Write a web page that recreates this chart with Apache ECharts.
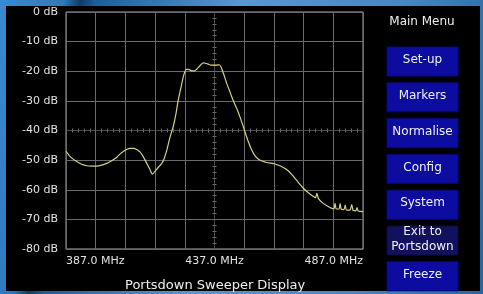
<!DOCTYPE html>
<html>
<head>
<meta charset="utf-8">
<title>Portsdown Sweeper Display</title>
<script src="https://cdn.jsdelivr.net/npm/echarts@6/dist/echarts.min.js"></script>
<style>
    html, body { margin: 0; padding: 0; }
    body {
        width: 483px; height: 294px; overflow: hidden; position: relative;
        background: linear-gradient(100deg, #3a8ad0 0%, #2f78bb 12%, #123a5c 15%, #1f5f98 18%, #5a96cf 45%, #4a86c0 75%, #2b64a0 100%);
    }
    #screen { position: absolute; left: 6px; top: 6px; width: 474px; height: 285px; background: #000; }
    #main { position: absolute; left: 0; top: 0; width: 483px; height: 294px; }
</style>
</head>
<body>
<div id="screen"></div>
<div id="main"></div>
<script>
// sweep trace (MHz / dB)
var freqMHz = [387.0, 388.5, 390.6, 392.3, 394.0, 395.7, 397.3, 399.0, 400.7, 402.4,
    404.0, 405.7, 407.4, 408.6, 409.7, 410.8, 411.9, 413.0, 414.2, 415.2,
    416.1, 417.1, 418.1, 419.2, 420.0, 420.9, 422.0, 423.1, 424.0, 424.8,
    425.7, 426.5, 427.1, 427.6, 428.2, 428.8, 429.5, 430.2, 431.0, 431.6,
    432.4, 433.2, 434.0, 434.9, 435.8, 436.6, 437.6, 438.6, 439.3, 440.0,
    440.6, 441.1, 442.0, 442.8, 443.7, 444.7, 445.6, 446.7, 447.6, 448.4,
    449.5, 450.6, 451.8, 453.2, 454.6, 456.0, 457.4, 458.8, 460.2, 461.8,
    463.5, 465.2, 466.9, 468.6, 470.3, 471.0, 471.5, 472.0, 473.6, 475.0,
    476.5, 477.2, 477.6, 478.0, 478.9, 479.3, 479.7, 480.6, 481.0, 481.4,
    482.6, 483.2, 483.7, 484.6, 485.0, 485.4, 487.0];
var levelDb = [-47.0, -48.9, -50.5, -51.4, -51.9, -52.0, -52.0, -51.7, -51.1, -50.2,
    -49.1, -47.5, -46.4, -46.0, -46.0, -46.4, -47.2, -48.8, -51.1, -53.0,
    -54.7, -53.6, -52.4, -51.2, -49.6, -46.8, -42.3, -38.7, -34.5, -29.7,
    -25.5, -21.8, -20.0, -19.4, -19.4, -19.6, -19.9, -19.9, -19.3, -18.7,
    -17.8, -17.2, -17.3, -17.6, -17.9, -17.9, -17.9, -17.8, -18.8, -20.7,
    -22.5, -24.1, -26.4, -28.6, -30.8, -33.1, -35.5, -38.7, -41.5, -43.8,
    -46.5, -48.5, -49.7, -50.4, -50.8, -51.0, -51.3, -51.8, -52.5, -53.6,
    -55.4, -57.5, -59.5, -61.0, -62.3, -62.7, -61.2, -63.0, -64.6, -65.5,
    -66.3, -66.4, -64.6, -66.5, -66.5, -64.7, -66.6, -66.7, -65.2, -66.8,
    -66.9, -65.0, -67.0, -67.1, -66.0, -67.2, -67.4];

var xLabelValues = [387, 437, 487];
var menuTitle = 'Main Menu';
var menuItems = ['Set-up', 'Markers', 'Normalise', 'Config', 'System', 'Exit to\nPortsdown', 'Freeze'];

var traceData = [];
for (var i = 0; i < freqMHz.length; i++) {
    traceData.push([freqMHz[i], levelDb[i]]);
}

var FONT = 'DejaVu Sans';
var GRID_COL = '#6a6a6a';
var CENTER_COL = '#3c3c3c';

// grid line colours per tick, the centre line is drawn dim (ruler axes go on top of it)
var xLineColors = [GRID_COL, GRID_COL, GRID_COL, GRID_COL, GRID_COL, CENTER_COL, GRID_COL, GRID_COL, GRID_COL, GRID_COL, GRID_COL];
var yLineColors = [GRID_COL, GRID_COL, GRID_COL, GRID_COL, CENTER_COL, GRID_COL, GRID_COL, GRID_COL, GRID_COL];

function rulerAxis(min, max, inside, showLine) {
    return {
        type: 'value', min: min, max: max, interval: 2,
        axisLine: { show: showLine, onZero: true, onZeroAxisIndex: 1, lineStyle: { color: '#4a4a4a', width: 1 } },
        axisTick: { show: true, inside: inside, length: 2, lineStyle: { color: '#6a6a6a', width: 1 } },
        axisLabel: { show: false },
        splitLine: { show: false }
    };
}

var menuGraphics = [{
    type: 'text', z: 10,
    style: { text: menuTitle, x: 422, y: 22, fill: '#eeeeee', font: '12px "' + FONT + '"', textAlign: 'center', textVerticalAlign: 'middle' }
}];
$each = function (arr, fn) { for (var k = 0; k < arr.length; k++) fn(k, arr[k]); };
$each(menuItems, function (idx, label) {
    var top = 47 + idx * 35.8;
    var isExit = label.indexOf('Exit') === 0;
    menuGraphics.push({
        type: 'rect', z: 10,
        shape: { x: 387, y: top, width: 71, height: 29 },
        style: { fill: isExit ? '#11115e' : '#0c0ca0', stroke: isExit ? '#0a0a40' : '#08087a', lineWidth: 1 }
    });
    menuGraphics.push({
        type: 'text', z: 11,
        style: {
            text: label, x: 422.5, y: top + 13, fill: '#f0f0f0',
            font: '12px "' + FONT + '"', textAlign: 'center', textVerticalAlign: 'middle', lineHeight: 15
        }
    });
});

var chart = echarts.init(document.getElementById('main'), null, { renderer: 'canvas' });
var option = {
    backgroundColor: 'transparent',
    animation: false,
    title: {
        text: 'Portsdown Sweeper Display',
        left: 120, top: 274,
        textStyle: { color: '#eeeeee', fontFamily: FONT, fontSize: 13, fontWeight: 'normal' }
    },
    grid: {
        left: 66, top: 12, width: 297, height: 237,
        show: true, borderColor: '#a9a9a9', borderWidth: 1, backgroundColor: 'transparent'
    },
    xAxis: [{
        type: 'value', min: 387, max: 487, interval: 10, position: 'bottom',
        axisLine: { show: false, onZero: false },
        axisTick: { show: false },
        axisLabel: {
            show: true, margin: 7, color: '#e2e2e2', fontFamily: FONT, fontSize: 11,
            showMinLabel: true, showMaxLabel: true,
            alignMinLabel: 'left', alignMaxLabel: 'right',
            formatter: function (v) {
                return xLabelValues.indexOf(Math.round(v)) >= 0 ? v.toFixed(1) + ' MHz' : '';
            }
        },
        splitLine: { show: true, lineStyle: { color: xLineColors, width: 1 } }
    },
        // centre ruler (ticks both sides of the line)
        Object.assign(rulerAxis(-50, 50, true, true), { position: 'bottom' }),
        Object.assign(rulerAxis(-50, 50, false, false), { position: 'bottom' })
    ],
    yAxis: [{
        type: 'value', min: -80, max: 0, interval: 10, position: 'left',
        axisLine: { show: false, onZero: false },
        axisTick: { show: false },
        axisLabel: {
            margin: 8, color: '#e2e2e2', fontFamily: FONT, fontSize: 11,
            formatter: function (v) { return v + ' dB'; }
        },
        splitLine: { show: true, lineStyle: { color: yLineColors, width: 1 } }
    },
        Object.assign(rulerAxis(-40, 40, true, true), { position: 'left' }),
        Object.assign(rulerAxis(-40, 40, false, false), { position: 'left' })
    ],
    graphic: menuGraphics,
    series: [{
        type: 'line',
        xAxisIndex: 0, yAxisIndex: 0,
        data: traceData,
        showSymbol: false,
        smooth: 0.25,
        lineStyle: { color: '#d3d185', width: 1.2 },
        z: 5
    }]
};
chart.setOption(option);
</script>
</body>
</html>
